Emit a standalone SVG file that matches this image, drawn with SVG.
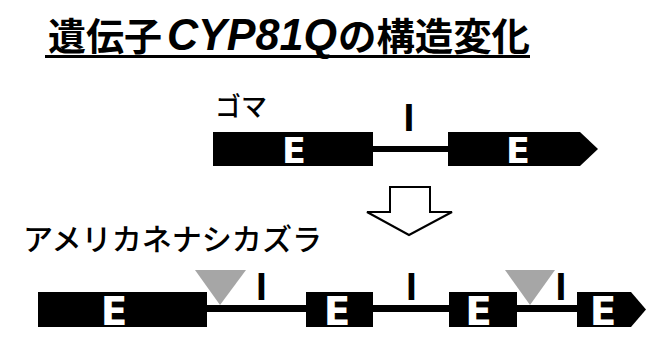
<svg xmlns="http://www.w3.org/2000/svg" width="648" height="359" viewBox="0 0 648 359">
<style>
.jp{font-family:"Noto Sans CJK JP","Noto Sans CJK SC",sans-serif;fill:#000}
.ex{fill:#000}
.e{font-family:"DejaVu Sans",sans-serif;font-weight:bold;fill:#fff;text-anchor:middle}
.i{font-family:"Liberation Sans",Arial,sans-serif;font-weight:bold;fill:#000;text-anchor:middle;font-size:39px}
.tri{fill:#a6a6a6}
.intron{stroke:#000;stroke-width:7;fill:none}
</style>
<rect width="648" height="359" fill="#fff"/>
<g id="title">
<text class="jp" x="48" y="50" font-size="38" font-weight="bold" textLength="114" lengthAdjust="spacingAndGlyphs">遺伝子</text>
<text x="167" y="50" font-family="Liberation Sans,Arial,sans-serif" font-size="44" font-weight="bold" font-style="italic" textLength="170" lengthAdjust="spacingAndGlyphs">CYP81Q</text>
<text class="jp" x="338" y="50" font-size="38" font-weight="bold" textLength="192" lengthAdjust="spacingAndGlyphs">の構造変化</text>
<rect x="45" y="55" width="485" height="3" fill="#000"/>
</g>
<g id="label-goma"><text class="jp" x="215" y="116" font-size="26" font-weight="500">ゴマ</text></g>
<g id="label-cuscuta"><text class="jp" x="23" y="250" font-size="30" font-weight="500" textLength="299" lengthAdjust="spacingAndGlyphs">アメリカネナシカズラ</text></g>
<g id="connectors">
<line class="intron" x1="370" y1="149" x2="452" y2="149" style="stroke-width:6"/>
<line class="intron" x1="205" y1="308.5" x2="580" y2="308.5"/>
</g>
<g id="top-exon1"><rect class="ex" x="213" y="132" width="160" height="34"/><text class="e" x="294" y="163" font-size="35">E</text></g>
<g id="top-intron-label"><text class="i" x="409" y="131">I</text></g>
<g id="top-exon2"><polygon class="ex" points="448,132 580,132 598,149 580,166 448,166"/><text class="e" x="518" y="163" font-size="35">E</text></g>
<g id="down-arrow"><polygon points="390,187 430,187 430,212 452,212 409,235 367,212 390,212" fill="#fff" stroke="#000" stroke-width="2" stroke-linejoin="miter"/></g>
<g id="bot-exon1"><rect class="ex" x="38" y="292" width="169" height="35"/><text class="e" x="114" y="325" font-size="39">E</text></g>
<g id="bot-ins1"><polygon class="tri" points="195,270 246,270 220,305"/></g>
<g id="bot-intron1-label"><text class="i" x="261.5" y="300">I</text></g>
<g id="bot-exon2"><rect class="ex" x="306" y="292" width="67" height="35"/><text class="e" x="337" y="325" font-size="39">E</text></g>
<g id="bot-intron2-label"><text class="i" x="411.5" y="300">I</text></g>
<g id="bot-exon3"><rect class="ex" x="449" y="292" width="68" height="35"/><text class="e" x="478.5" y="325" font-size="39">E</text></g>
<g id="bot-ins2"><polygon class="tri" points="505,270 555,270 530,305"/></g>
<g id="bot-intron3-label"><text class="i" x="561" y="300">I</text></g>
<g id="bot-exon4"><polygon class="ex" points="577,292 631,292 646,309.5 631,327 577,327"/><text class="e" x="603" y="325" font-size="39">E</text></g>
</svg>
